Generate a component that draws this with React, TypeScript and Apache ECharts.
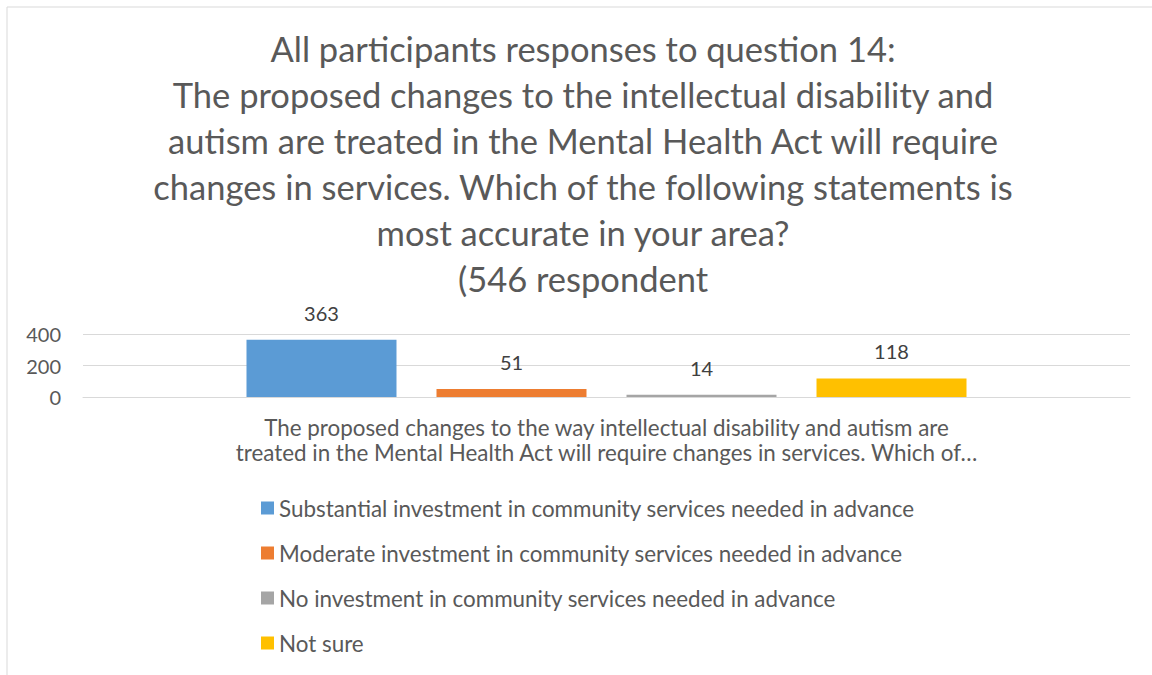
import React, { useEffect, useRef } from "react";
import * as echarts from "echarts";

const titleLines = [
  "All participants responses to question 14:",
  "The proposed changes to the intellectual disability and",
  "autism are treated in the Mental Health Act will require",
  "changes in services. Which of the following statements is",
  "most accurate in your area?",
  "(546 respondent",
];
const categories = [
  "The proposed changes to the way intellectual disability and autism are\ntreated in the Mental Health Act will require changes in services. Which of…",
];
const seriesNames = [
  "Substantial investment in community services needed in advance",
  "Moderate investment in community services needed in advance",
  "No investment in community services needed in advance",
  "Not sure",
];
const seriesValues = [[363], [51], [14], [118]];
const seriesColors = ["#5B9BD5", "#ED7D31", "#A5A5A5", "#FFC000"];
const yTicks = { min: 0, max: 400, interval: 200 };

const FONT = "Lato, 'Open Sans', sans-serif";
const TXT = "#595959";

export default function App() {
  const ref = useRef<HTMLDivElement>(null);
  useEffect(() => {
    if (!ref.current) return;
    const chart = echarts.init(ref.current, null, { renderer: "svg" });
    chart.setOption({
      animation: false,
      textStyle: { fontFamily: FONT },
      graphic: [
        {
          type: "rect",
          shape: { x: 7, y: 7, width: 1200, height: 700 },
          style: { fill: "none", stroke: "#d9d9d9", lineWidth: 1 },
          silent: true,
        },
        {
          type: "text",
          x: 583,
          y: 25,
          style: {
            text: titleLines.join("\n"),
            fontFamily: FONT,
            fontSize: 34.5,
            lineHeight: 46,
            fill: TXT,
            textAlign: "center",
            textVerticalAlign: "top",
          },
        },
      ],
      grid: { left: 83, right: 22, top: 334, height: 63, containLabel: false },
      legend: {
        orient: "vertical",
        left: 256,
        top: 492,
        itemWidth: 13,
        itemHeight: 13,
        itemGap: 23,
        icon: "rect",
        textStyle: { color: TXT, fontSize: 22.4, lineHeight: 22, fontFamily: FONT },
        data: seriesNames,
      },
      xAxis: {
        type: "category",
        data: categories,
        axisLine: { lineStyle: { color: "#d9d9d9", width: 1 } },
        axisTick: { show: false },
        axisLabel: {
          color: TXT,
          fontSize: 22.4,
          lineHeight: 25,
          margin: 18,
          interval: 0,
          fontFamily: FONT,
        },
      },
      yAxis: {
        type: "value",
        min: yTicks.min,
        max: yTicks.max,
        interval: yTicks.interval,
        axisLine: { show: false },
        axisTick: { show: false },
        splitLine: { lineStyle: { color: "#d9d9d9", width: 1 } },
        axisLabel: { color: TXT, fontSize: 20, margin: 22, fontFamily: FONT },
      },
      series: seriesNames.map((name, i) => ({
        name,
        type: "bar",
        data: seriesValues[i],
        barWidth: 150,
        barGap: "26.67%",
        itemStyle: { color: seriesColors[i] },
        label: {
          show: true,
          position: "top",
          distance: 17,
          color: "#404040",
          fontSize: 20,
          fontFamily: FONT,
        },
      })),
    });
    return () => chart.dispose();
  }, []);
  return (
    <div
      ref={ref}
      style={{ position: "fixed", left: 0, top: 0, width: 1152, height: 675, background: "#fff" }}
    />
  );
}
